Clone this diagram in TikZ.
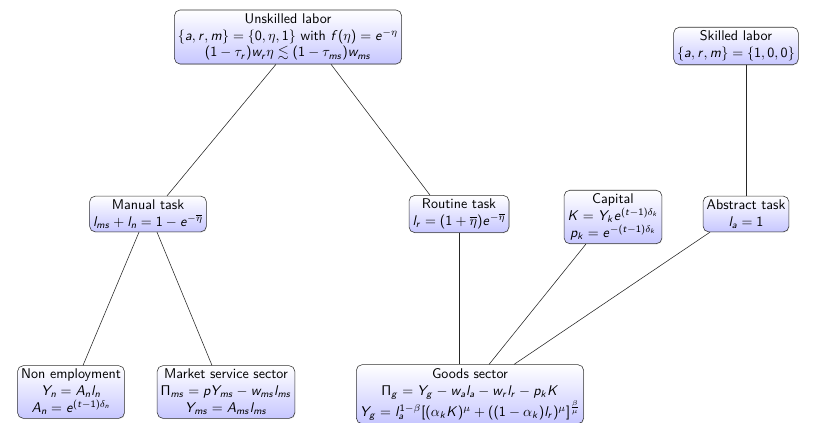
\documentclass[tikz,border=0pt]{standalone}
\usepackage{amssymb}
\usepackage{tikz}
\usetikzlibrary{shadows}

\DeclareSymbolFont{sfletters}{OT1}{cmss}{m}{sl}
\SetSymbolFont{operators}{normal}{OT1}{cmss}{m}{n}
\newcommand\sfletter[1]{\DeclareMathSymbol{#1}{\mathalpha}{sfletters}{`#1}}
\sfletter a\sfletter b\sfletter c\sfletter d\sfletter e\sfletter f\sfletter g
\sfletter h\sfletter i\sfletter j\sfletter k\sfletter l\sfletter m\sfletter n
\sfletter o\sfletter p\sfletter q\sfletter r\sfletter s\sfletter t\sfletter u
\sfletter v\sfletter w\sfletter x\sfletter y\sfletter z
\sfletter A\sfletter B\sfletter C\sfletter D\sfletter E\sfletter F\sfletter G
\sfletter H\sfletter I\sfletter J\sfletter K\sfletter L\sfletter M\sfletter N
\sfletter O\sfletter P\sfletter Q\sfletter R\sfletter S\sfletter T\sfletter U
\sfletter V\sfletter W\sfletter X\sfletter Y\sfletter Z

\tikzset{
  box/.style={draw=black!80, rounded corners=4pt, align=center, font=\sffamily,
    top color=white, bottom color=blue!22, inner sep=2.5pt, drop shadow={opacity=0.2, shadow xshift=0.4pt, shadow yshift=-0.6pt}},
  link/.style={draw=black!85, thin}
}

\begin{document}
\begin{tikzpicture}
\useasboundingbox (0,0) rectangle (20.35,10.575);

\node[box] (unskilled) at (7.2,9.65) {Unskilled labor\\ $\{a,r,m\}=\{0,\eta,1\}$ with $f(\eta)=e^{-\eta}$\\ $(1-\tau_r)w_r\eta\lesssim(1-\tau_{ms})w_{ms}$};
\node[box] (skilled) at (18.4,9.425) {Skilled labor\\ $\{a,r,m\}=\{1,0,0\}$};

\node[box] (manual) at (3.7,5.225) {Manual task\\ $l_{ms}+l_n=1-e^{-\overline{\eta}}$};
\node[box] (routine) at (11.475,5.225) {Routine task\\ $l_r=(1+\overline{\eta})e^{-\overline{\eta}}$};
\node[box] (capital) at (15.325,5.15) {Capital\\ $K=Y_ke^{(t-1)\delta_k}$\\ $p_k=e^{-(t-1)\delta_k}$};
\node[box] (abstract) at (18.65,5.225) {Abstract task\\ $l_a=1$};

\node[box] (nonemp) at (1.775,0.775) {Non employment\\ $Y_n=A_nl_n$\\ $A_n=e^{(t-1)\delta_n}$};
\node[box] (market) at (5.65,0.775) {Market service sector\\ $\Pi_{ms}=pY_{ms}-w_{ms}l_{ms}$\\ $Y_{ms}=A_{ms}l_{ms}$};
\node[box] (goods) at (11.75,0.72) {Goods sector\\ $\Pi_g=Y_g-w_al_a-w_rl_r-p_kK$\\ $Y_g=l_a^{1-\beta}[(\alpha_kK)^\mu+((1-\alpha_k)l_r)^\mu]^{\frac{\beta}{\mu}}$};

\draw[link] ([xshift=-0.3cm]unskilled.south) -- ([xshift=0.475cm]manual.north);
\draw[link] ([xshift=1.075cm]unskilled.south) -- ([xshift=-0.725cm]routine.north);
\draw[link] (abstract.north |- skilled.south) -- (abstract.north);
\draw[link] ([xshift=-0.225cm]manual.south) -- ([xshift=0.3cm]nonemp.north);
\draw[link] ([xshift=0.225cm]manual.south) -- ([xshift=-0.35cm]market.north);
\draw[link] (routine.south) -- (routine.south |- goods.north);
\draw[link] ([xshift=-0.675cm]capital.south) -- ([xshift=0.475cm]goods.north);
\draw[link] ([xshift=-0.9cm]abstract.south) -- ([xshift=1.1cm]goods.north);
\end{tikzpicture}
\end{document}
